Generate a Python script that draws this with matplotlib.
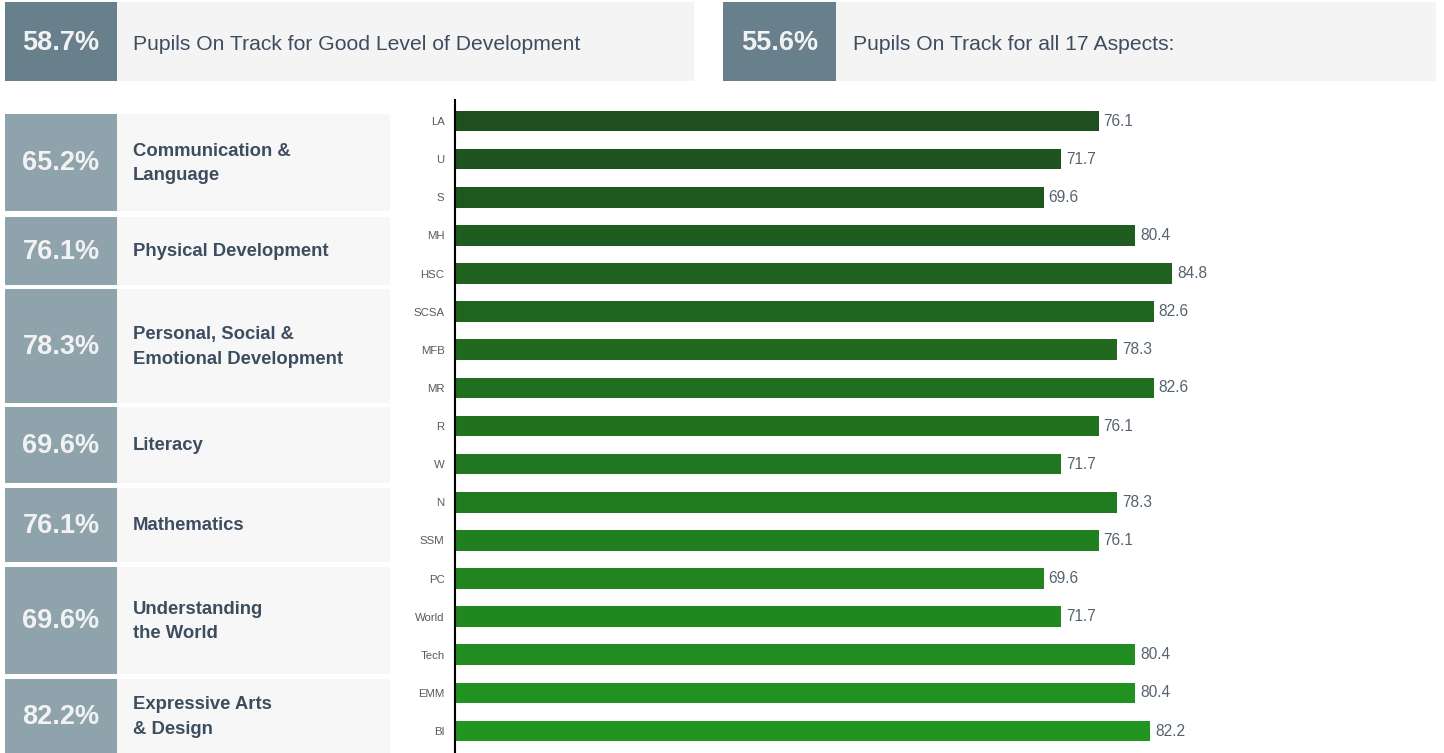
import numpy as np
import matplotlib.pyplot as plt
from matplotlib.patches import Rectangle
from matplotlib.colors import LinearSegmentedColormap

plt.rcParams['font.family'] = ['Liberation Sans', 'DejaVu Sans']

# headline figures
gld_pct = "58.7%"
gld_text = "Pupils On Track for Good Level of Development"
all_pct = "55.6%"
all_text = "Pupils On Track for all 17 Aspects:"

# areas of learning
area_pct = ["65.2%", "76.1%", "78.3%", "69.6%", "76.1%", "69.6%", "82.2%"]
area_names = ["Communication &\nLanguage", "Physical Development",
              "Personal, Social &\nEmotional Development", "Literacy",
              "Mathematics", "Understanding\nthe World", "Expressive Arts\n& Design"]

# 17 aspects
aspects = ["LA", "U", "S", "MH", "HSC", "SCSA", "MFB", "MR", "R", "W",
           "N", "SSM", "PC", "World", "Tech", "EMM", "BI"]
aspect_values = [76.1, 71.7, 69.6, 80.4, 84.8, 82.6, 78.3, 82.6, 76.1, 71.7,
                 78.3, 76.1, 69.6, 71.7, 80.4, 80.4, 82.2]

W, H = 1444, 753
fig = plt.figure(figsize=(W / 100, H / 100), dpi=100)


def box(x0, y0, x1, y1, color):
    # pixel coords, y from top
    fig.patches.append(Rectangle((x0 / W, 1 - y1 / H), (x1 - x0) / W, (y1 - y0) / H,
                                 transform=fig.transFigure, facecolor=color,
                                 edgecolor="none", zorder=0))


def txt(x, y, s, **kw):
    fig.text(x / W, 1 - y / H, s, **kw)


dark = "#687f8c"
mid = "#8fa3ad"
light_top = "#f4f4f4"
light = "#f7f7f7"
text_col = "#3d4d60"

# top headline boxes
box(5, 2, 117, 81, dark)
box(117, 2, 694, 81, light_top)
txt(61, 43, gld_pct, ha="center", va="center", fontsize=19.5, fontweight="bold", color="#f2f2f2")
txt(133, 44, gld_text, ha="left", va="center", fontsize=15.2, color=text_col)

box(723, 2, 836, 81, dark)
box(836, 2, 1436, 81, light_top)
txt(779.5, 43, all_pct, ha="center", va="center", fontsize=19.5, fontweight="bold", color="#f2f2f2")
txt(853, 44, all_text, ha="left", va="center", fontsize=15.2, color=text_col)

# left panels for areas
panel_y = [(114, 211), (217, 285), (289, 403), (407, 483), (488, 562), (567, 674), (679, 753)]
for (y0, y1), pct, name in zip(panel_y, area_pct, area_names):
    box(5, y0, 117, y1, mid)
    box(117, y0, 390, y1, light)
    yc = (y0 + y1) / 2
    txt(61, yc + 1, pct, ha="center", va="center", fontsize=19.5, fontweight="bold", color="#f2f2f2")
    txt(133, yc + 1, name, ha="left", va="center", fontsize=13.3, fontweight="bold",
        color=text_col, linespacing=1.55)

# bar chart of aspects
ax = fig.add_axes([455 / W, 0, (1436 - 455) / W, 1 - 100 / H])
cmap = LinearSegmentedColormap.from_list("g", ["#1f4f1f", "#21951f"])
colors = [cmap(i / (len(aspects) - 1)) for i in range(len(aspects))]
y = np.arange(len(aspects))
ax.barh(y, aspect_values, height=0.54, color=colors)
for yi, v in zip(y, aspect_values):
    ax.text(v + 0.6, yi, f"{v}", va="center", ha="left", fontsize=11.2, color="#56626f")

ax.set_xlim(0, 116)
ax.set_ylim(16.577, -0.551)
ax.set_yticks(y)
ax.set_yticklabels(aspects, fontsize=8.2, color="#555a60")
ax.tick_params(axis="y", length=0, pad=7.5)
ax.set_xticks([])
for s in ["top", "right", "bottom"]:
    ax.spines[s].set_visible(False)
ax.spines["left"].set_linewidth(1.5)
ax.spines["left"].set_color("black")
ax.patch.set_alpha(0)

fig.savefig("out.png", dpi=100)
